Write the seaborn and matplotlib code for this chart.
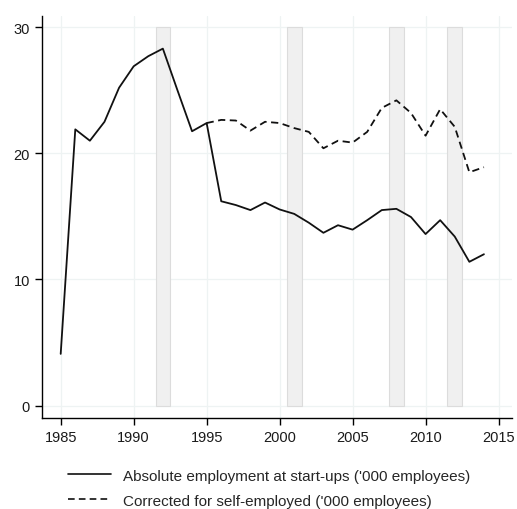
import matplotlib
matplotlib.use("Agg")
import matplotlib.pyplot as plt
import seaborn as sns
import pandas as pd
from matplotlib.lines import Line2D

years = list(range(1985, 2015))
startup_emp = [4.1, 21.9, 21.0, 22.5, 25.2, 26.9, 27.7, 28.3, 25.0, 21.75,
               22.4, 16.2, 15.9, 15.5, 16.1, 15.55, 15.2, 14.5, 13.7, 14.3,
               13.95, 14.7, 15.5, 15.6, 14.95, 13.6, 14.7, 13.4, 11.4, 12.0]

corr_years = list(range(1995, 2015))
corrected_emp = [22.4, 22.65, 22.6, 21.8, 22.5, 22.4, 22.0, 21.7, 20.4, 21.0,
                 20.85, 21.7, 23.6, 24.2, 23.2, 21.4, 23.5, 22.1, 18.5, 18.9]

recession_years = [1992, 2001, 2008, 2012]

label_abs = "Absolute employment at start-ups ('000 employees)"
label_corr = "Corrected for self-employed ('000 employees)"

df = pd.concat([
    pd.DataFrame({"year": years, "value": startup_emp, "series": label_abs}),
    pd.DataFrame({"year": corr_years, "value": corrected_emp, "series": label_corr}),
])

sns.set_style("white")
plt.rcParams["font.family"] = ["Liberation Sans", "DejaVu Sans"]

fig = plt.figure(figsize=(5.17, 5.10), dpi=100)
ax = fig.add_axes([0.0807, 0.178, 0.909, 0.789])

# grid
for x in range(1985, 2016, 5):
    ax.axvline(x, color="#eef3f3", lw=0.9, zorder=0)
for y in range(0, 31, 10):
    ax.axhline(y, color="#eef3f3", lw=0.9, zorder=0)

# recession shading
ax.bar(recession_years, [30] * len(recession_years), width=1.0, bottom=0,
       color="#f0f0f0", edgecolor="#dcdcdc", linewidth=0.8, zorder=1)

sns.lineplot(data=df, x="year", y="value", style="series",
             dashes={label_abs: "", label_corr: (4, 2.5)},
             color="#111111", linewidth=1.3, ax=ax, legend=False, zorder=3,
             sort=False)

ax.set_xlim(1983.7, 2015.9)
ax.set_ylim(-1.0, 30.9)
ax.set_xticks(range(1985, 2016, 5))
ax.set_yticks(range(0, 31, 10))
ax.set_xlabel("")
ax.set_ylabel("")
ax.tick_params(axis="both", direction="out", length=5, width=1, color="black",
               labelsize=10.5, labelcolor="#1a1a1a", left=True, bottom=True, pad=3.5)
for s in ["top", "right"]:
    ax.spines[s].set_visible(False)
for s in ["left", "bottom"]:
    ax.spines[s].set_color("black")
    ax.spines[s].set_linewidth(1.0)

handles = [Line2D([], [], color="#111111", lw=1.2),
           Line2D([], [], color="#111111", lw=1.2, dashes=(4, 2.5))]
fig.legend(handles, [label_abs, label_corr], loc="upper left",
           bbox_to_anchor=(0.1315, 0.079), frameon=False, fontsize=11,
           handlelength=2.8, handletextpad=0.8, labelspacing=0.72,
           borderpad=0, borderaxespad=0)

fig.savefig("out.png", dpi=100, facecolor="white")
